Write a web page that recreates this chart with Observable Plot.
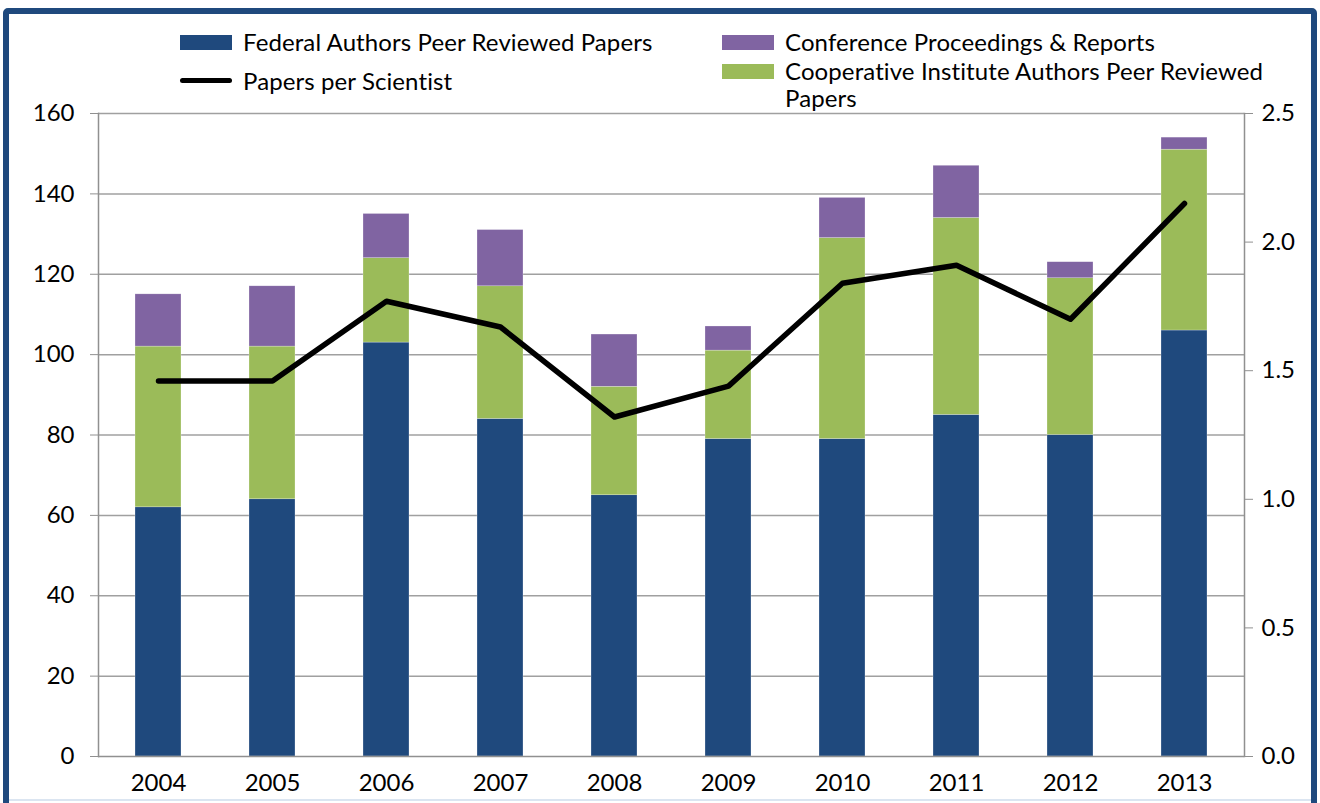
<!DOCTYPE html>
<html>
<head>
<meta charset="utf-8">
<script src="https://cdn.jsdelivr.net/npm/d3@7"></script>
<script src="https://cdn.jsdelivr.net/npm/@observablehq/plot@0.6"></script>
<style>
  html, body { margin: 0; padding: 0; background: #fff; }
  #page { position: relative; width: 1320px; height: 803px; overflow: hidden; font-family: Lato, "Liberation Sans", sans-serif; }
  #frame { position: absolute; left: 3px; top: 8px; width: 1302px; height: 820px; border: 6px solid #1F497D; border-radius: 5px; pointer-events: none; }
  #bottomline { position: absolute; left: 9px; top: 799px; width: 1302px; height: 2px; background: #dbe5f1; }
  #legend { position: absolute; left: 0; top: 0; width: 1320px; height: 110px; }
  .item { position: absolute; font-size: 24px; color: #000; line-height: 27px; white-space: nowrap; letter-spacing: 0.1px; }
  .sw { position: absolute; }
  #chart { position: absolute; left: 0; top: 80px; }
</style>
</head>
<body>
<div id="page">
  <div id="chart"></div>
  <div id="legend"></div>
  <div id="bottomline"></div>
  <div id="frame"></div>
</div>
<script>
const years = ["2004","2005","2006","2007","2008","2009","2010","2011","2012","2013"];
const federal = [62, 64, 103, 84, 65, 79, 79, 85, 80, 106];
const cooperative = [40, 38, 21, 33, 27, 22, 50, 49, 39, 45];
const conference = [13, 15, 11, 14, 13, 6, 10, 13, 4, 3];
const papersPerScientist = [1.46, 1.46, 1.77, 1.67, 1.32, 1.44, 1.84, 1.91, 1.70, 2.15];
const leftTicks = [0, 20, 40, 60, 80, 100, 120, 140, 160];
const rightTicks = [0, 0.5, 1.0, 1.5, 2.0, 2.5];

const seriesNames = ["Federal Authors Peer Reviewed Papers", "Cooperative Institute Authors Peer Reviewed Papers", "Conference Proceedings & Reports"];
const seriesColors = ["#1F497D", "#9BBB59", "#8064A2"];
const seriesValues = [federal, cooperative, conference];

const rows = [];
seriesNames.forEach((s, i) => years.forEach((y, j) => rows.push({year: y, series: s, value: seriesValues[i][j]})));
const lineRows = years.map((y, j) => ({year: y, pps: papersPerScientist[j]}));

const ratio = 160 / 2.5;

const chart = Plot.plot({
  width: 1320,
  height: 723,
  marginTop: 33,
  marginBottom: 47,
  marginLeft: 98,
  marginRight: 76,
  style: { fontFamily: "Lato, 'Liberation Sans', sans-serif", fontSize: "24px", color: "#000", background: "transparent" },
  x: { domain: years, paddingInner: 0.6, paddingOuter: 0.3, label: null },
  y: { domain: [0, 160], label: null },
  color: { domain: seriesNames, range: seriesColors },
  marks: [
    Plot.ruleY(leftTicks.filter(d => d > 0), { stroke: "#A0A0A0", strokeWidth: 1.5 }),
    Plot.barY(rows, { x: "year", y: "value", fill: "series", order: seriesNames, stroke: "#ffffff", strokeOpacity: 0.5, strokeWidth: 0.5 }),
    Plot.ruleY([0], { stroke: "#909090", strokeWidth: 1.5 }),
    Plot.frame({ anchor: "left", stroke: "#909090", strokeWidth: 1.5 }),
    Plot.frame({ anchor: "right", stroke: "#909090", strokeWidth: 1.5 }),
    Plot.line(lineRows, { x: "year", y: d => d.pps * ratio, stroke: "#000", strokeWidth: 5.5, strokeLinecap: "round", strokeLinejoin: "round" }),
    Plot.axisY({ anchor: "left", ticks: leftTicks, tickSize: 8, tickPadding: 16, stroke: "#909090", label: null }),
    Plot.axisY({ anchor: "right", ticks: rightTicks.map(v => v * ratio), tickFormat: d => (d / ratio).toFixed(1), tickSize: 8, tickPadding: 9, stroke: "#909090", label: null }),
    Plot.axisX({ tickSize: 0, tickPadding: 17, label: null })
  ]
});
document.getElementById("chart").appendChild(chart);

// Legend
const legend = document.getElementById("legend");
const legendItems = [
  { kind: "rect", color: seriesColors[0], label: seriesNames[0], x: 180, y: 28 },
  { kind: "line", color: "#000", label: "Papers per Scientist", x: 180, y: 67 },
  { kind: "rect", color: seriesColors[2], label: seriesNames[2], x: 722, y: 28 },
  { kind: "rect", color: seriesColors[1], label: "Cooperative Institute Authors Peer Reviewed<br>Papers", x: 722, y: 57 }
];
legendItems.forEach(it => {
  const sw = document.createElement("div");
  sw.className = "sw";
  if (it.kind === "rect") {
    sw.style.cssText = `left:${it.x}px;top:${it.y + 7}px;width:52px;height:15px;background:${it.color};`;
  } else {
    sw.style.cssText = `left:${it.x}px;top:${it.y + 11}px;width:52px;height:5px;border-radius:3px;background:${it.color};`;
  }
  legend.appendChild(sw);
  const t = document.createElement("div");
  t.className = "item";
  t.style.left = (it.x + 63) + "px";
  t.style.top = it.y + "px";
  t.innerHTML = it.label;
  legend.appendChild(t);
});
</script>
</body>
</html>
